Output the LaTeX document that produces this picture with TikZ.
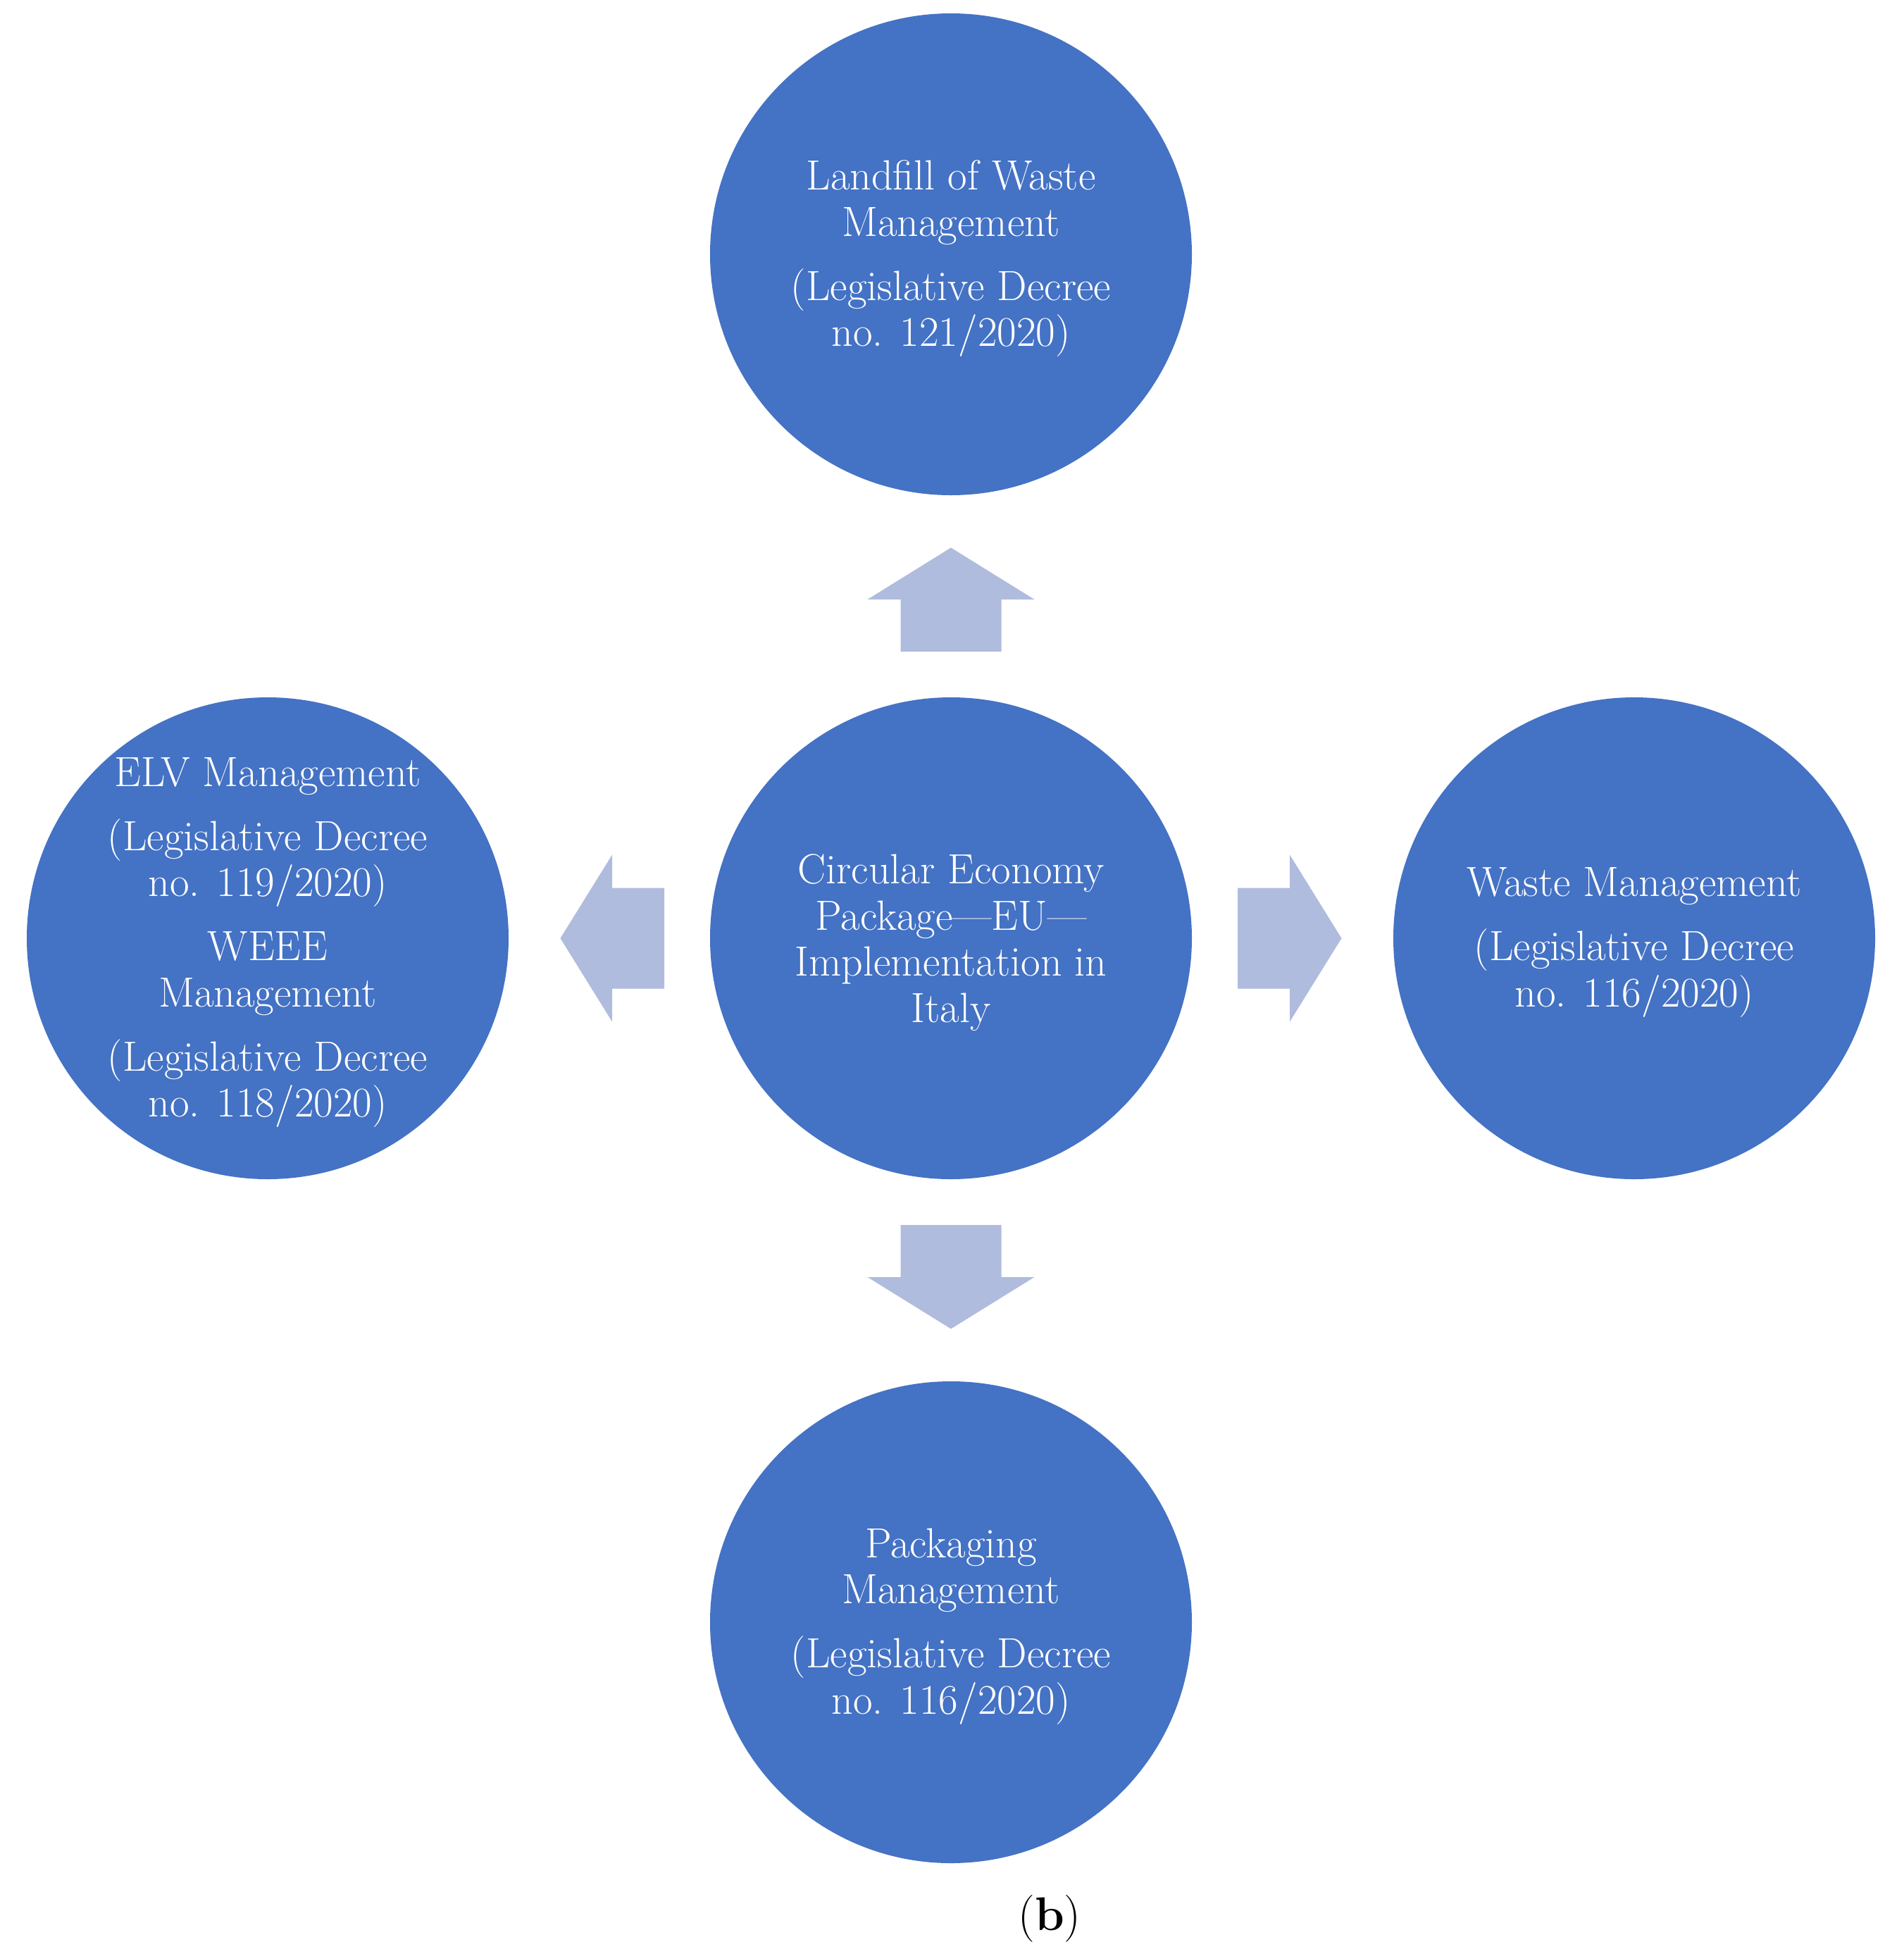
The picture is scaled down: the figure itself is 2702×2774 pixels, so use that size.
\documentclass[tikz,border=0pt]{standalone}
\definecolor{cblue}{HTML}{4472C4}
\definecolor{carrow}{HTML}{AFBCDD}
\begin{document}
\begin{tikzpicture}[x=1pt,y=-1pt,
  bubble/.style={circle, fill=cblue, minimum size=684pt, inner sep=0pt},
  bubbletext/.style={text=white, align=center, inner sep=0pt, yshift=-6pt, font=\fontsize{60}{65.5}\selectfont},
  blockarrow/.style={fill=carrow, draw=none}]
\useasboundingbox (0,0) rectangle (2702,2774);
\node[bubble] (center) at (1350,1332) {};
\node[bubble] (top) at (1350,361) {};
\node[bubble] (right) at (2320,1332) {};
\node[bubble] (bottom) at (1350,2303) {};
\node[bubble] (left) at (380,1332) {};
\node[bubbletext] (centert) at (center) {Circular Economy\\Package—EU—\\Implementation in\\Italy};
\node[bubbletext] (topt) at (top) {Landfill of Waste\\Management\\[25.5pt](Legislative Decree\\no. 121/2020)};
\node[bubbletext] (rightt) at (right) {Waste Management\\[25.5pt](Legislative Decree\\no. 116/2020)};
\node[bubbletext] (bottomt) at (bottom) {Packaging\\Management\\[25.5pt](Legislative Decree\\no. 116/2020)};
\node[bubbletext] (leftt) at (left) {ELV Management\\[25.5pt](Legislative Decree\\no. 119/2020)\\[25.5pt]WEEE\\Management\\[25.5pt](Legislative Decree\\no. 118/2020)};
\foreach \ang in {0,90,180,270}{
  \begin{scope}[shift={(center.center)}, rotate=\ang]
    \fill[blockarrow] (407,-71.5) -- (481,-71.5) -- (481,-118.5) -- (554.5,0) -- (481,118.5) -- (481,71.5) -- (407,71.5) -- cycle;
  \end{scope}
}
\node[anchor=base, font=\fontsize{67}{70}\selectfont, inner sep=0pt] (lbl) at (1490,2740) {(\textbf{b})};
\end{tikzpicture}
\end{document}
